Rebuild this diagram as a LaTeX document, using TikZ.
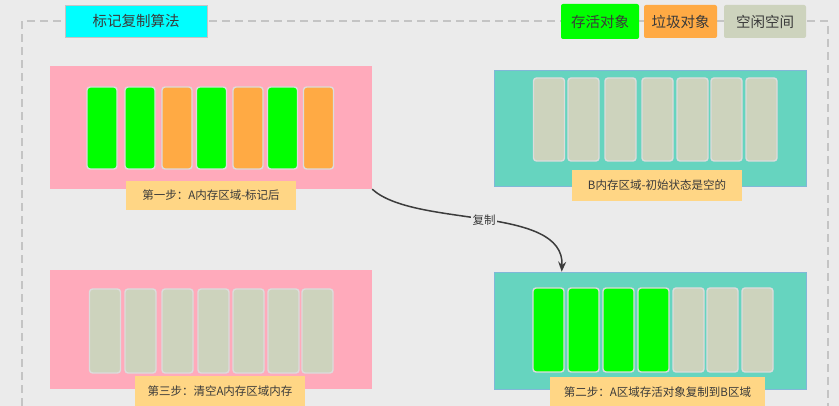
\documentclass[tikz,border=0pt]{standalone}
\usepackage{fontspec}
\newfontfamily\cjk{Noto Sans CJK SC}
\usetikzlibrary{arrows.meta}
\definecolor{bgc}{HTML}{EBEBEB}
\definecolor{framec}{HTML}{C4C4C4}
\definecolor{titlec}{HTML}{00FFFF}
\definecolor{livec}{HTML}{00FF00}
\definecolor{garbc}{HTML}{FFAA44}
\definecolor{freec}{HTML}{CDD3BD}
\definecolor{pinkc}{HTML}{FFAABB}
\definecolor{tealc}{HTML}{66D4BF}
\definecolor{tealb}{HTML}{7FB8D8}
\definecolor{labc}{HTML}{FFD685}
\definecolor{cellb}{HTML}{DCDCDC}
\definecolor{txtc}{HTML}{3A3A3A}
\definecolor{arrc}{HTML}{3C3C3C}
\tikzset{
  every node/.style={font=\cjk, text=txtc},
  panelA/.style={fill=pinkc, draw=none, inner sep=0pt},
  panelB/.style={fill=tealc, draw=tealb, line width=0.6pt, inner sep=0pt},
  cellbox/.style={draw=cellb, line width=1.4pt, rounded corners=3pt, inner sep=0pt},
  steplabel/.style={fill=labc, draw=none, inner sep=0pt, font=\cjk\fontsize{11.5}{13}\selectfont},
  legendbox/.style={rounded corners=2pt, inner sep=0pt, font=\cjk\fontsize{14.5}{16}\selectfont}
}
\begin{document}
\begin{tikzpicture}[x=1pt,y=-1pt]
\fill[bgc] (0,0) rectangle (839,406);
\useasboundingbox (0,0) rectangle (839,406);
% dashed frame
\draw[framec, line width=1.3pt, dash pattern=on 8pt off 5pt] (22,406) -- (22,21) -- (828,21) -- (828,406);

% title
\node[fill=titlec, draw=framec, line width=0.5pt, minimum width=142pt, minimum height=32pt, inner sep=0pt,
      font=\cjk\fontsize{14.5}{16}\selectfont, text=txtc] (title) at (136,21) {标记复制算法};

% legend
\node[legendbox, fill=livec, minimum width=78pt, minimum height=35pt] (lglive) at (600,21.5) {存活对象};
\node[legendbox, fill=garbc, minimum width=73pt, minimum height=33pt] (lggarb) at (680.5,21.5) {垃圾对象};
\node[legendbox, fill=freec, minimum width=82pt, minimum height=33pt] (lgfree) at (765,21.5) {空闲空间};

% panels
\node[panelA, minimum width=322pt, minimum height=123pt] (A) at (211,127.5) {};
\node[panelB, minimum width=312pt, minimum height=116pt] (B) at (650,128) {};
\node[panelA, minimum width=322pt, minimum height=119pt] (C) at (211,329.5) {};
\node[panelB, minimum width=312pt, minimum height=117pt] (D) at (650,330.5) {};

% cells A
\foreach \x/\c [count=\i] in {102/livec,140/livec,177/garbc,211.5/livec,248/garbc,282.5/livec,318.5/garbc}
  \node[cellbox, fill=\c, minimum width=30pt, minimum height=82pt] (a\i) at (\x,128) {};
% cells B
\foreach \x [count=\i] in {549,583.5,620.5,657.5,692.5,726.5,761.5}
  \node[cellbox, fill=freec, minimum width=31pt, minimum height=83pt] (b\i) at (\x,119.5) {};
% cells C
\foreach \x [count=\i] in {105,140.5,177.5,213.5,248.5,283.5,317.5}
  \node[cellbox, fill=freec, minimum width=31pt, minimum height=84pt] (c\i) at (\x,331) {};
% cells D
\foreach \x/\c [count=\i] in {548.5/livec,583.5/livec,618.5/livec,653.5/livec,688.5/freec,722.5/freec,757.5/freec}
  \node[cellbox, fill=\c, minimum width=31pt, minimum height=84pt] (d\i) at (\x,330) {};

% step labels
\node[steplabel, minimum width=170pt, minimum height=29pt] (la) at (211,195.5) {第一步：A内存区域-标记后};
\node[steplabel, minimum width=170pt, minimum height=31pt] (lb) at (657,185.5) {B内存区域-初始状态是空的};
\node[steplabel, minimum width=170pt, minimum height=30pt] (lc) at (220,391) {第三步：清空A内存区域内存};
\node[steplabel, minimum width=215pt, minimum height=30pt] (ld) at (657.5,392) {第二步：A区域存活对象复制到B区域};

% arrow
\coordinate (tip) at ([xshift=68pt]D.north west);
\draw[arrc, line width=1.5pt, -{Stealth[length=10pt,width=8pt]}]
  (A.south east) .. controls (415,228) and (565,205) .. (tip)
  node[pos=0.5, fill=bgc, inner sep=1.5pt, font=\cjk\fontsize{11.5}{12}\selectfont, text=txtc] (cp) {复制};
\end{tikzpicture}
\end{document}
